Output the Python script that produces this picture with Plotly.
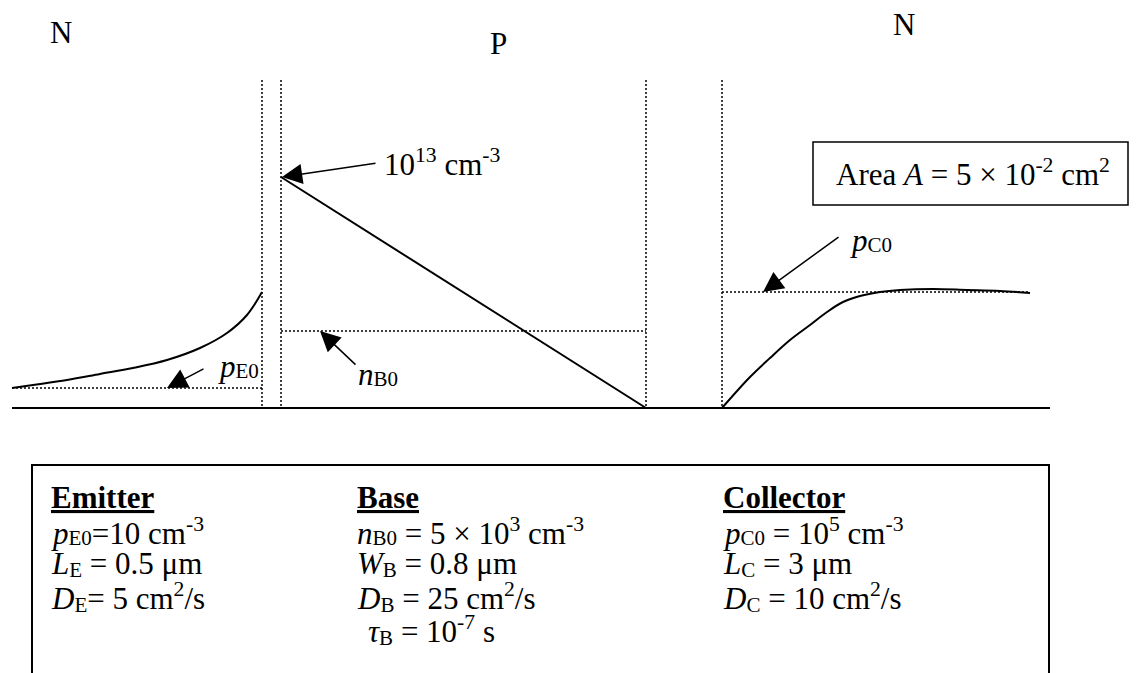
import plotly.graph_objects as go

FONT = "Liberation Serif, Times New Roman, serif"

# The sketch is laid out in screen units: x to the right, y downward.
# Edges of the two depletion regions (E-B and B-C junctions)
edge_x = [262, 281, 646, 722]
edge_top = 80
axis_y = 408
axis_x = [12, 1050]

# Minority carrier profiles
emitter_x = [12, 33, 67, 100, 133, 167, 200, 227, 247, 262]
emitter_y = [388, 385, 380, 374, 368, 360, 348, 333, 315, 292]
base_x = [281, 646]
base_y = [177, 408]
collector_x = [722, 750, 770, 790, 810, 827, 843, 860, 880, 900, 933, 967, 1000, 1030]
collector_y = [408, 377, 358, 340, 325, 312, 302, 296, 292, 290, 289, 290, 291, 293]

# Equilibrium levels: level, x from, x to
pE0_level = [388, 12, 262]
nB0_level = [331, 281, 646]
pC0_level = [292, 722, 1030]


def sub(s, drop=3):
    # Word-style subscript: smaller, only slightly lowered
    return f"<span style='font-size:21px;baseline-shift:-{drop}px'>{s}</span>"


region_labels = ["N", "P", "N"]
area_text = "Area <i>A</i> = 5 × 10<sup>-2</sup> cm<sup>2</sup>"
peak_text = "10<sup>13</sup> cm<sup>-3</sup>"

emitter_rows = [
    "<b><u>Emitter</u></b>",
    "<i>p</i>" + sub("E0", 1) + "=10 cm<sup>-3</sup>",
    "<i>L</i>" + sub("E") + " = 0.5 μm",
    "<i>D</i>" + sub("E") + "= 5 cm<sup>2</sup>/s",
]
base_rows = [
    "<b><u>Base</u></b>",
    "<i>n</i>" + sub("B0", 1) + " = 5 × 10<sup>3</sup> cm<sup>-3</sup>",
    "<i>W</i>" + sub("B") + " = 0.8 μm",
    "<i>D</i>" + sub("B") + " = 25 cm<sup>2</sup>/s",
    "<i>τ</i>" + sub("B") + " = 10<sup>-7</sup> s",
]
collector_rows = [
    "<b><u>Collector</u></b>",
    "<i>p</i>" + sub("C0", 1) + " = 10<sup>5</sup> cm<sup>-3</sup>",
    "<i>L</i>" + sub("C") + " = 3 μm",
    "<i>D</i>" + sub("C") + " = 10 cm<sup>2</sup>/s",
]


fig = go.Figure()
solid = dict(color="black", width=2)
dots = dict(color="black", width=1.5, dash="2px,2px")

# x axis line
fig.add_trace(go.Scatter(x=axis_x, y=[axis_y, axis_y], mode="lines", line=solid))

# junction edges
for x in edge_x:
    fig.add_trace(go.Scatter(x=[x, x], y=[edge_top, axis_y], mode="lines", line=dots))

# equilibrium levels
for lvl in [pE0_level, nB0_level, pC0_level]:
    fig.add_trace(go.Scatter(x=[lvl[1], lvl[2]], y=[lvl[0], lvl[0]], mode="lines", line=dots))

# carrier profiles
fig.add_trace(go.Scatter(x=emitter_x, y=emitter_y, mode="lines", line=dict(solid, shape="spline")))
fig.add_trace(go.Scatter(x=base_x, y=base_y, mode="lines", line=solid))
fig.add_trace(go.Scatter(x=collector_x, y=collector_y, mode="lines", line=dict(solid, shape="spline")))


def label(x, y, text, xanchor="left"):
    fig.add_annotation(x=x, y=y, text=text, showarrow=False, xanchor=xanchor, yanchor="middle",
                       font=dict(family=FONT, size=31, color="black"))


def arrow(tip, tail):
    fig.add_annotation(x=tip[0], y=tip[1], ax=tail[0], ay=tail[1], axref="x", ayref="y",
                       text="", showarrow=True, arrowhead=2, arrowsize=2.7,
                       arrowwidth=1.5, arrowcolor="black")


# region names
for x, y, t in zip([61, 498, 904], [32, 43, 24], region_labels):
    label(x, y, t, xanchor="center")

# callouts
label(382, 162, peak_text)
arrow((282, 177), (377, 163))
label(216, 366, "<i>p</i>" + sub("E0", 1))
arrow((167, 388), (205, 368))
label(356, 374, "<i>n</i>" + sub("B0", 1))
arrow((320, 331), (357, 366))
label(848, 240, "<i>p</i>" + sub("C0", 1))
arrow((763, 292), (840, 236))

# area box
fig.add_shape(type="rect", x0=813, x1=1128, y0=142, y1=205, line=dict(color="black", width=1.5))
label(834, 172, area_text)

# parameter table (open at the bottom)
fig.add_shape(type="path", path="M 32 680 L 32 465 L 1049 465 L 1049 680",
              line=dict(color="black", width=2))
row_y = [497, 531, 564, 597, 630]
for i, t in enumerate(emitter_rows):
    label(49, row_y[i], t)
for i, t in enumerate(base_rows):
    label(366 if i == 4 else 355, row_y[i], t)
for i, t in enumerate(collector_rows):
    label(721, row_y[i], t)

fig.update_xaxes(range=[0, 1138], visible=False, fixedrange=True)
fig.update_yaxes(range=[673, 0], visible=False, fixedrange=True)
fig.update_layout(
    width=1138, height=673,
    margin=dict(l=0, r=0, t=0, b=0),
    paper_bgcolor="white", plot_bgcolor="white",
    showlegend=False,
)

fig.write_html("out.html", config={"displayModeBar": False},
               post_script="document.body.style.margin='0';")
